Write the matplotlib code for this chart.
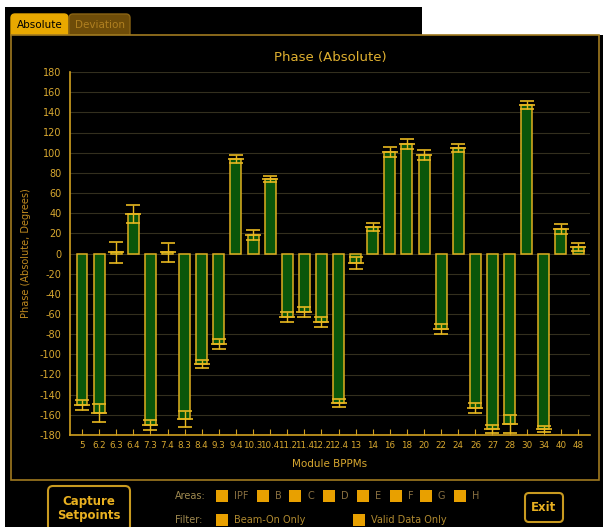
import numpy as np
import matplotlib.pyplot as plt
import matplotlib.patches as patches

plt.rcParams['axes.unicode_minus'] = False

# module BPPM names and measured phase (degrees) with error
modules = ['5', '6.2', '6.3', '6.4', '7.3', '7.4', '8.3', '8.4', '9.3', '9.4',
           '10.3', '10.4', '11.2', '11.4', '12.2', '12.4', '13', '14', '16', '18',
           '20', '22', '24', '26', '27', '28', '30', '34', '40', '48']
phase = [-150, -158, 1, 39, -170, 1, -164, -110, -90, 94,
         18, 74, -63, -58, -68, -148, -9, 26, 101, 109,
         98, -75, 105, -153, -174, -169, 147, -174, 24, 6]
phase_err = [5, 9, 10, 9, 5, 9, 8, 4, 5, 4,
             5, 3, 5, 5, 5, 4, 6, 4, 5, 5,
             5, 5, 4, 5, 4, 9, 4, 3, 5, 4]
yticks = list(range(-180, 181, 20))

area_names = ['IPF', 'B', 'C', 'D', 'E', 'F', 'G', 'H']
filter_names = ['Beam-On Only', 'Valid Data Only']

W, H = 603, 527
gold = '#e0b020'
text_gold = '#d8a830'
dim_text = '#a08a50'
orange = '#e8a000'

fig = plt.figure(figsize=(W / 100, H / 100), dpi=100, facecolor='black')

# ---- the surrounding GUI, drawn in pixel coordinates ----
ui = fig.add_axes([0, 0, 1, 1])
ui.set_xlim(0, W)
ui.set_ylim(H, 0)
ui.axis('off')
ui.set_facecolor('black')

ui.add_patch(patches.Rectangle((0, 0), W, 7, fc='white', ec='none'))
ui.add_patch(patches.Rectangle((0, 0), 5, H, fc='white', ec='none'))
ui.add_patch(patches.Rectangle((422, 0), W - 422, 35, fc='white', ec='none'))

# tabs
ui.add_patch(patches.FancyBboxPatch((11, 14), 57, 24, boxstyle='round,pad=0,rounding_size=4',
                                    fc='#e8a800', ec='#e8a800', lw=1))
ui.text(39.5, 25, 'Absolute', color='black', fontsize=7.5, ha='center', va='center')
ui.add_patch(patches.FancyBboxPatch((69, 14), 61, 24, boxstyle='round,pad=0,rounding_size=4',
                                    fc='#6e4c08', ec='#8a6414', lw=1))
ui.text(99.5, 25, 'Deviation', color='#b08020', fontsize=7.5, ha='center', va='center')

# panel frame
ui.add_patch(patches.Rectangle((11, 35), 588, 445, fc='black', ec='#a07a20', lw=1.2))

# bottom controls
ui.add_patch(patches.FancyBboxPatch((48, 486), 82, 45, boxstyle='round,pad=0,rounding_size=5',
                                    fc='black', ec='#c89a20', lw=1.5))
ui.text(89, 508, 'Capture\nSetpoints', color='#e8b020', fontsize=8.5, fontweight='bold',
        ha='center', va='center', linespacing=1.1)
ui.add_patch(patches.FancyBboxPatch((525, 493), 38, 29, boxstyle='round,pad=0,rounding_size=4',
                                    fc='black', ec='#c89a20', lw=1.5))
ui.text(544, 507.5, 'Exit', color='#e8b020', fontsize=8.5, fontweight='bold',
        ha='center', va='center')

ui.text(175, 496, 'Areas:', color=dim_text, fontsize=7, va='center')
box_x = [216, 257, 289, 323, 357, 390, 420, 454]
for bx, name in zip(box_x, area_names):
    ui.add_patch(patches.Rectangle((bx, 490), 12, 12, fc=orange, ec='none'))
    ui.text(bx + 18, 496, name, color='#8a7040', fontsize=7, va='center')

ui.text(175, 520, 'Filter:', color=dim_text, fontsize=7, va='center')
for bx, name in zip([216, 353], filter_names):
    ui.add_patch(patches.Rectangle((bx, 514), 12, 12, fc=orange, ec='none'))
    ui.text(bx + 18, 520, name, color='#b08a30', fontsize=7, va='center')

# ---- the chart itself ----
ax = fig.add_axes([70 / W, 92 / H, 520 / W, 363 / H])
ax.set_facecolor('none')

x = np.arange(len(modules))
ax.bar(x, phase, width=0.64, color='#0a560a', edgecolor=gold, linewidth=1.1, zorder=2)
ax.errorbar(x, phase, yerr=phase_err, fmt='_', markersize=12, mew=1.2,
            color='#e8b820', ecolor='#e8b820', elinewidth=1, capsize=5, capthick=1, zorder=3)

ax.set_xlim(-0.7, len(modules) - 0.3)
ax.set_ylim(-180, 180)
ax.set_yticks(yticks)
ax.set_xticks(x)
ax.set_xticklabels(modules)

ax.yaxis.grid(True, color='#332f1e', lw=0.8)
ax.set_axisbelow(True)

for s in ['top', 'right']:
    ax.spines[s].set_visible(False)
for s in ['left', 'bottom']:
    ax.spines[s].set_color('#d0a020')
    ax.spines[s].set_linewidth(1.2)

ax.tick_params(axis='x', direction='in', length=4, color='#d0a020', labelcolor=text_gold,
               labelsize=6.3, pad=4)
ax.tick_params(axis='y', length=0, labelcolor=text_gold, labelsize=7, pad=6)

ax.set_title('Phase (Absolute)', color='#e0b030', fontsize=9.5, pad=8)
ax.set_xlabel('Module BPPMs', color=text_gold, fontsize=7.5, labelpad=7)
ax.set_ylabel('Phase (Absolute, Degrees)', color='#c08a20', fontsize=7, labelpad=6)

fig.savefig('out.png', dpi=100, facecolor='black')
